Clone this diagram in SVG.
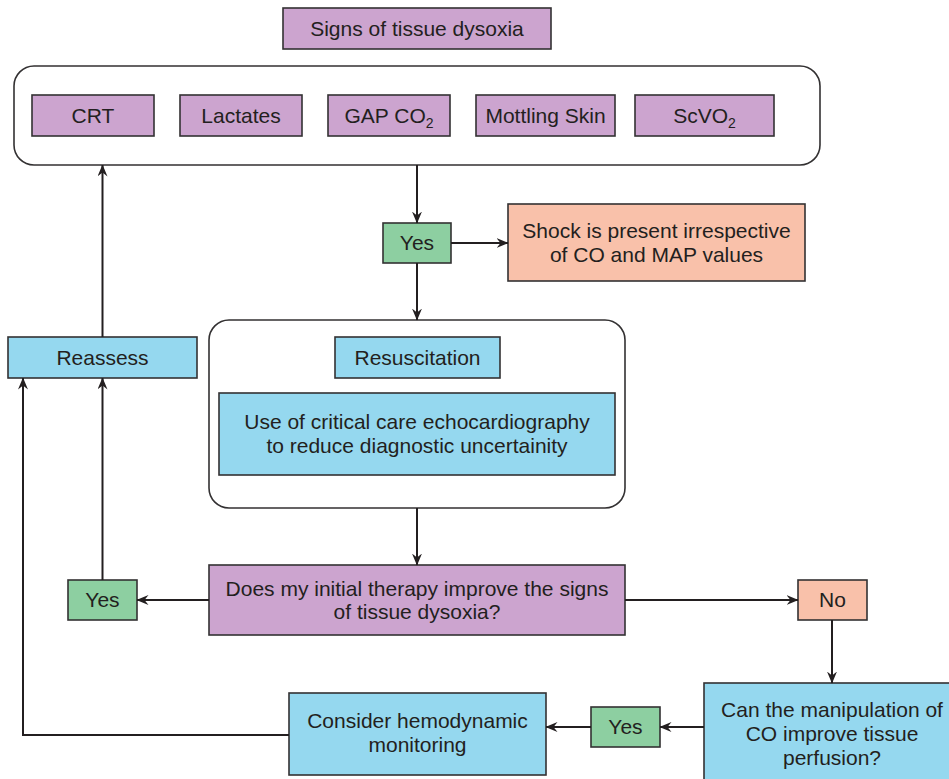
<svg xmlns="http://www.w3.org/2000/svg" width="949" height="779" viewBox="0 0 949 779">
  <style>
    .box { stroke: #333132; stroke-width: 1.6; }
    .purple { fill: #cca4cf; }
    .blue { fill: #95d8ef; }
    .green { fill: #8dcfa1; }
    .salmon { fill: #f9c1aa; }
    .frame { fill: #ffffff; stroke: #333132; stroke-width: 1.6; }
    text { font-family: "Liberation Sans", Arial, sans-serif; font-size: 21px; fill: #231f20; text-anchor: middle; }
    .sub { font-size: 14px; }
    .link { fill: none; stroke: #231f20; stroke-width: 2; }
  </style>
  <defs>
    <marker id="arrow" viewBox="0 0 12 10" refX="11.5" refY="5" markerWidth="12" markerHeight="10" markerUnits="userSpaceOnUse" orient="auto">
      <path d="M0,0 L12,5 L0,10 L4,5 Z" fill="#231f20"/>
    </marker>
  </defs>

  <!-- Header -->
  <g id="title">
    <rect class="box purple" x="283" y="8" width="268" height="41"/>
    <text x="417" y="36">Signs of tissue dysoxia</text>
  </g>

  <!-- Group of signs -->
  <g id="signs-frame">
    <rect class="frame" x="14" y="66" width="806" height="99" rx="20" ry="20"/>
  </g>
  <g id="crt">
    <rect class="box purple" x="32" y="95" width="122" height="41"/>
    <text x="93" y="123">CRT</text>
  </g>
  <g id="lactates">
    <rect class="box purple" x="180" y="95" width="122" height="41"/>
    <text x="241" y="123">Lactates</text>
  </g>
  <g id="gap-co2">
    <rect class="box purple" x="328" y="95" width="122" height="41"/>
    <text x="389" y="123">GAP CO<tspan class="sub" dy="5">2</tspan></text>
  </g>
  <g id="mottling">
    <rect class="box purple" x="476" y="95" width="139" height="41"/>
    <text x="545.5" y="123">Mottling Skin</text>
  </g>
  <g id="scvo2">
    <rect class="box purple" x="635" y="95" width="139" height="41"/>
    <text x="704.5" y="123">ScVO<tspan class="sub" dy="5">2</tspan></text>
  </g>

  <!-- First decision -->
  <g id="yes-top">
    <rect class="box green" x="383" y="223" width="68" height="40"/>
    <text x="417" y="250">Yes</text>
  </g>
  <g id="shock">
    <rect class="box salmon" x="508" y="204" width="297" height="77"/>
    <text x="656.5" y="238">Shock is present irrespective</text>
    <text x="656.5" y="262">of CO and MAP values</text>
  </g>

  <!-- Resuscitation -->
  <g id="reassess">
    <rect class="box blue" x="8" y="337" width="189" height="41"/>
    <text x="102.5" y="365">Reassess</text>
  </g>
  <g id="resus-frame">
    <rect class="frame" x="209" y="320" width="416" height="188" rx="20" ry="20"/>
  </g>
  <g id="resuscitation">
    <rect class="box blue" x="335" y="337" width="165" height="41"/>
    <text x="417.5" y="365">Resuscitation</text>
  </g>
  <g id="echo">
    <rect class="box blue" x="219" y="393" width="396" height="82"/>
    <text x="417" y="429">Use of critical care echocardiography</text>
    <text x="417" y="453">to reduce diagnostic uncertainity</text>
  </g>

  <!-- Response to therapy -->
  <g id="question">
    <rect class="box purple" x="209" y="565" width="416" height="70"/>
    <text x="417" y="596">Does my initial therapy improve the signs</text>
    <text x="417" y="619">of tissue dysoxia?</text>
  </g>
  <g id="yes-left">
    <rect class="box green" x="68" y="580" width="69" height="40"/>
    <text x="102.5" y="607">Yes</text>
  </g>
  <g id="no">
    <rect class="box salmon" x="798" y="580" width="69" height="40"/>
    <text x="832.5" y="607">No</text>
  </g>
  <g id="co-question">
    <rect class="box blue" x="704" y="683" width="260" height="110"/>
    <text x="832" y="717">Can the manipulation of</text>
    <text x="832" y="741">CO improve tissue</text>
    <text x="832" y="765">perfusion?</text>
  </g>
  <g id="yes-bottom">
    <rect class="box green" x="591" y="707" width="69" height="40"/>
    <text x="625.5" y="734">Yes</text>
  </g>
  <g id="monitoring">
    <rect class="box blue" x="289" y="693" width="257" height="82"/>
    <text x="417.5" y="728">Consider hemodynamic</text>
    <text x="417.5" y="752">monitoring</text>
  </g>

  <!-- Connectors -->
  <g id="connectors">
    <path class="link" d="M417,165 V223" marker-end="url(#arrow)"/>
    <path class="link" d="M451,243 H508" marker-end="url(#arrow)"/>
    <path class="link" d="M417,263 V320" marker-end="url(#arrow)"/>
    <path class="link" d="M417,508 V565" marker-end="url(#arrow)"/>
    <path class="link" d="M209,600 H137" marker-end="url(#arrow)"/>
    <path class="link" d="M625,600 H798" marker-end="url(#arrow)"/>
    <path class="link" d="M832,620 V683" marker-end="url(#arrow)"/>
    <path class="link" d="M704,727 H660" marker-end="url(#arrow)"/>
    <path class="link" d="M591,727 H546" marker-end="url(#arrow)"/>
    <path class="link" d="M289,735 H23 V378" marker-end="url(#arrow)"/>
    <path class="link" d="M102.5,580 V378" marker-end="url(#arrow)"/>
    <path class="link" d="M102.5,337 V165" marker-end="url(#arrow)"/>
  </g>
</svg>
